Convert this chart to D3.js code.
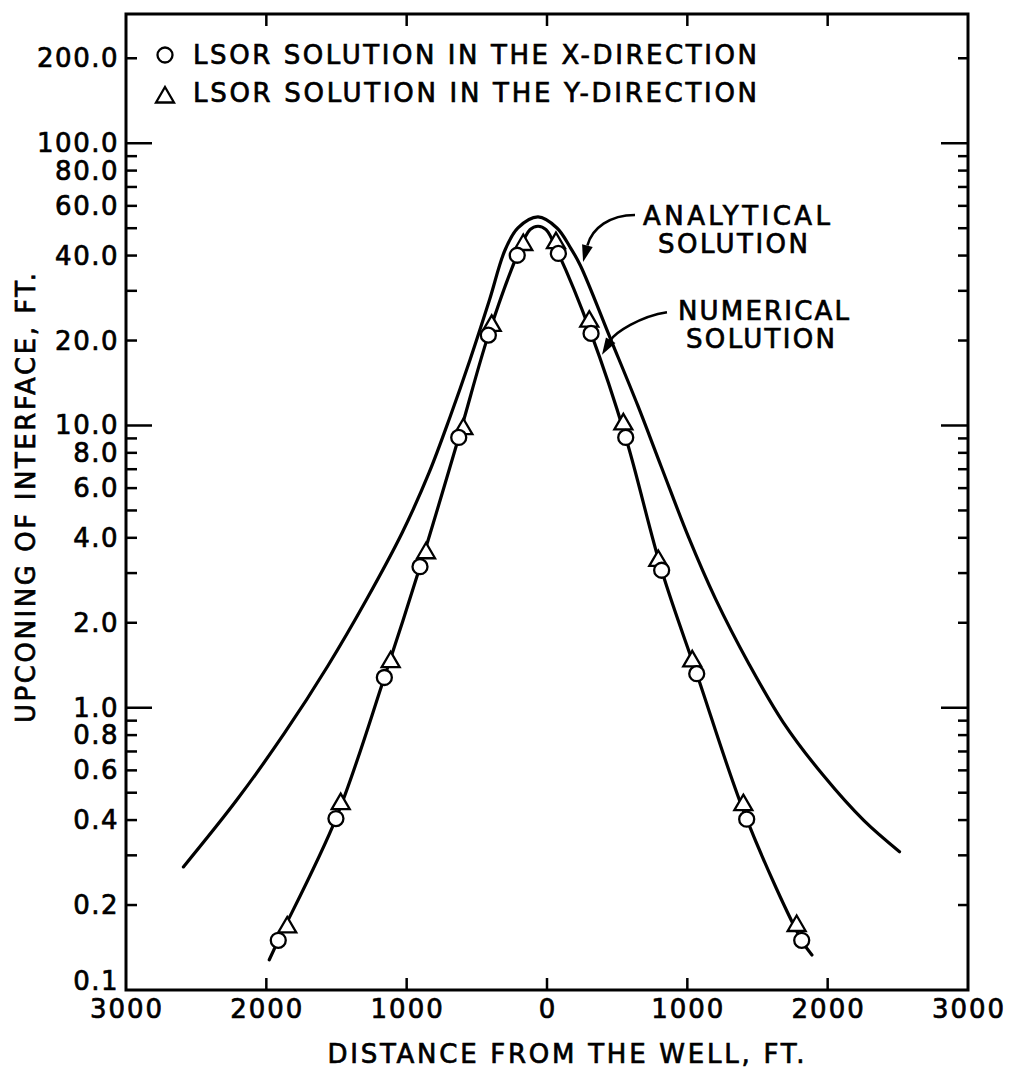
<!DOCTYPE html>
<html><head><meta charset="utf-8">
<script src="https://cdn.jsdelivr.net/npm/d3@7"></script>
<style>
html,body{margin:0;padding:0;background:#fff;}
svg{display:block;}
text{font-family:"DejaVu Sans",sans-serif;fill:#000;stroke:#000;stroke-width:0.7px;}
</style></head><body>
<svg id="chart" width="1014" height="1069"></svg>
<script>
// ---------- data ----------
const xTickValues = [-3000, -2000, -1000, 0, 1000, 2000, 3000];
const yMajorTicks = [1, 10, 100];
const yMinorTicks = [0.2,0.3,0.4,0.5,0.6,0.7,0.8,0.9, 2,3,4,5,6,7,8,9, 20,30,40,50,60,70,80,90, 200];
const yTickLabels = [0.1,0.2,0.4,0.6,0.8,1,2,4,6,8,10,20,40,60,80,100,200];

// LSOR solution in the X-direction (circles)
const xDirDistance = [-1915, -1504, -1159, -905, -629, -418, -212, 81, 314, 561, 817, 1067, 1423, 1815];
const xDirUpconing = [0.150, 0.405, 1.28, 3.16, 9.07, 20.9, 40.1, 40.7, 21.2, 9.07, 3.07, 1.32, 0.403, 0.150];

// LSOR solution in the Y-direction (triangles)
const yDirDistance = [-1851, -1470, -1114, -862, -596, -394, -169, 64, 301, 544, 793, 1035, 1399, 1779];
const yDirUpconing = [0.170, 0.465, 1.48, 3.60, 9.9, 23.0, 44.5, 45.2, 23.8, 10.3, 3.38, 1.49, 0.461, 0.172];

// Numerical solution (line through the markers)
const numDistance = [-1979, -1915, -1504, -1159, -905, -629, -418, -212, -121, -64, -7, 81, 314, 561, 817, 1067, 1423, 1815, 1888];
const numUpconing = [0.128, 0.150, 0.405, 1.28, 3.16, 9.07, 20.9, 40.1, 49.4, 50.8, 49.4, 40.7, 21.2, 9.07, 3.07, 1.32, 0.403, 0.150, 0.133];

// Analytical solution
const anaDistance = [-2591, -2211, -1870, -1562, -1288, -1033, -841, -691, -549, -410, -299, -207, -64, 71, 164, 237, 454, 646, 815, 1008, 1200, 1441, 1682, 1970, 2259, 2512];
const anaUpconing = [0.273, 0.471, 0.814, 1.406, 2.408, 4.16, 6.79, 10.72, 17.07, 27.84, 41.85, 50.1, 54.8, 50.1, 42.9, 36.95, 20.2, 11.8, 7.13, 4.03, 2.436, 1.424, 0.890, 0.575, 0.398, 0.309];

const legendLabels = ["LSOR SOLUTION IN THE X-DIRECTION", "LSOR SOLUTION IN THE Y-DIRECTION"];
const xAxisTitle = "DISTANCE FROM THE WELL, FT.";
const yAxisTitle = "UPCONING OF INTERFACE, FT.";

// ---------- layout ----------
const L = 126, R = 968, T = 14, B = 990;
const svg = d3.select("#chart");
const x = d3.scaleLinear().domain([-3000, 3000]).range([L, R]);
const y = d3.scaleLog().domain([0.1, 287]).range([B, T]);

const zip = (a, b) => a.map((d, i) => [d, b[i]]);

// frame
svg.append("rect").attr("x", L).attr("y", T).attr("width", R - L).attr("height", B - T)
  .attr("fill", "none").attr("stroke", "#000").attr("stroke-width", 3);

const tickG = svg.append("g").attr("stroke", "#000").attr("stroke-width", 2.5);
// x ticks (inward, bottom and top)
xTickValues.filter(v => Math.abs(v) < 3000).forEach(v => {
  tickG.append("line").attr("x1", x(v)).attr("x2", x(v)).attr("y1", B).attr("y2", B - 12);
  tickG.append("line").attr("x1", x(v)).attr("x2", x(v)).attr("y1", T).attr("y2", T + 12);
});
// y ticks, left and right
yMajorTicks.forEach(v => {
  tickG.append("line").attr("x1", L).attr("x2", L + 26).attr("y1", y(v)).attr("y2", y(v));
  tickG.append("line").attr("x1", R).attr("x2", R - 27).attr("y1", y(v)).attr("y2", y(v));
});
yMinorTicks.forEach(v => {
  tickG.append("line").attr("x1", L).attr("x2", L + 11).attr("y1", y(v)).attr("y2", y(v));
  tickG.append("line").attr("x1", R).attr("x2", R - 10).attr("y1", y(v)).attr("y2", y(v));
});

// tick labels
svg.append("g").selectAll("text").data(yTickLabels).join("text")
  .attr("x", 119).attr("y", d => d === 0.1 ? y(d) : y(d) + 9)
  .attr("text-anchor", "end").attr("font-size", 26).attr("letter-spacing", 1.5)
  .text(d => d.toFixed(1));
svg.append("g").selectAll("text").data(xTickValues).join("text")
  .attr("x", d => x(d) + 1).attr("y", 1018)
  .attr("text-anchor", "middle").attr("font-size", 26).attr("letter-spacing", 2)
  .text(d => String(Math.abs(d)));

// axis titles
svg.append("text").attr("x", 566).attr("y", 1063).attr("text-anchor", "middle")
  .attr("font-size", 26).attr("textLength", 477).attr("lengthAdjust", "spacing").text(xAxisTitle);
svg.append("text").attr("transform", "translate(35,498) rotate(-90)").attr("text-anchor", "middle")
  .attr("font-size", 26).attr("textLength", 450).attr("lengthAdjust", "spacing").text(yAxisTitle);

// curves
const line = d3.line().x(d => x(d[0])).y(d => y(d[1])).curve(d3.curveCatmullRom.alpha(0.5));
svg.append("path").datum(zip(anaDistance, anaUpconing)).attr("d", line)
  .attr("fill", "none").attr("stroke", "#000").attr("stroke-width", 3.2).attr("stroke-linecap", "round");
svg.append("path").datum(zip(numDistance, numUpconing)).attr("d", line)
  .attr("fill", "none").attr("stroke", "#000").attr("stroke-width", 3.2).attr("stroke-linecap", "round");

// markers
const triPath = "M0,-8 L9,7.5 L-9,7.5 Z";
svg.append("g").selectAll("path").data(zip(yDirDistance, yDirUpconing)).join("path")
  .attr("transform", d => `translate(${x(d[0])},${y(d[1])})`).attr("d", triPath)
  .attr("fill", "#fff").attr("stroke", "#000").attr("stroke-width", 2.3).attr("stroke-linejoin", "miter");
svg.append("g").selectAll("circle").data(zip(xDirDistance, xDirUpconing)).join("circle")
  .attr("cx", d => x(d[0])).attr("cy", d => y(d[1])).attr("r", 7.5)
  .attr("fill", "#fff").attr("stroke", "#000").attr("stroke-width", 2.3);

// legend
svg.append("circle").attr("cx", 165).attr("cy", 55).attr("r", 7.5)
  .attr("fill", "#fff").attr("stroke", "#000").attr("stroke-width", 2.3);
svg.append("path").attr("transform", "translate(165,95)").attr("d", triPath)
  .attr("fill", "#fff").attr("stroke", "#000").attr("stroke-width", 2.3);
legendLabels.forEach((t, i) => {
  svg.append("text").attr("x", 193).attr("y", i === 0 ? 64 : 102).attr("font-size", 26)
    .attr("textLength", 564).attr("lengthAdjust", "spacing").text(t);
});

// annotations with curved arrows (anchors in data coordinates)
function arrow(s, c1, c2, t) {
  const P = p => [x(p[0]), y(p[1])];
  const S = P(s), C1 = P(c1), C2 = P(c2), Tt = P(t);
  const dx = Tt[0] - C2[0], dy = Tt[1] - C2[1], len = Math.hypot(dx, dy);
  const ux = dx / len, uy = dy / len, hl = 17, hw = 5.5;
  const bx = Tt[0] - ux * hl, by = Tt[1] - uy * hl;
  svg.append("path").attr("d", `M${S[0]},${S[1]} C${C1[0]},${C1[1]} ${C2[0]},${C2[1]} ${bx},${by}`)
    .attr("fill", "none").attr("stroke", "#000").attr("stroke-width", 2.6);
  svg.append("path").attr("d", `M${Tt[0]},${Tt[1]} L${bx - uy * hw},${by + ux * hw} L${bx + uy * hw},${by - ux * hw} Z`)
    .attr("fill", "#000");
  return S;
}
const aS = arrow([627, 55.7], [449, 55.7], [321, 50.1], [257, 37.96]);
svg.append("text").attr("x", aS[0] + 8).attr("y", aS[1] + 10).attr("font-size", 26)
  .attr("textLength", 187).attr("lengthAdjust", "spacing").text("ANALYTICAL");
svg.append("text").attr("x", aS[0] + 23).attr("y", aS[1] + 38).attr("font-size", 26)
  .attr("textLength", 150).attr("lengthAdjust", "spacing").text("SOLUTION");
const nS = arrow([855, 25.2], [663, 24.4], [485, 21.3], [392, 17.8]);
svg.append("text").attr("x", nS[0] + 11).attr("y", nS[1] + 8).attr("font-size", 26)
  .attr("textLength", 171).attr("lengthAdjust", "spacing").text("NUMERICAL");
svg.append("text").attr("x", nS[0] + 19).attr("y", nS[1] + 36).attr("font-size", 26)
  .attr("textLength", 149).attr("lengthAdjust", "spacing").text("SOLUTION");
</script>
</body></html>
